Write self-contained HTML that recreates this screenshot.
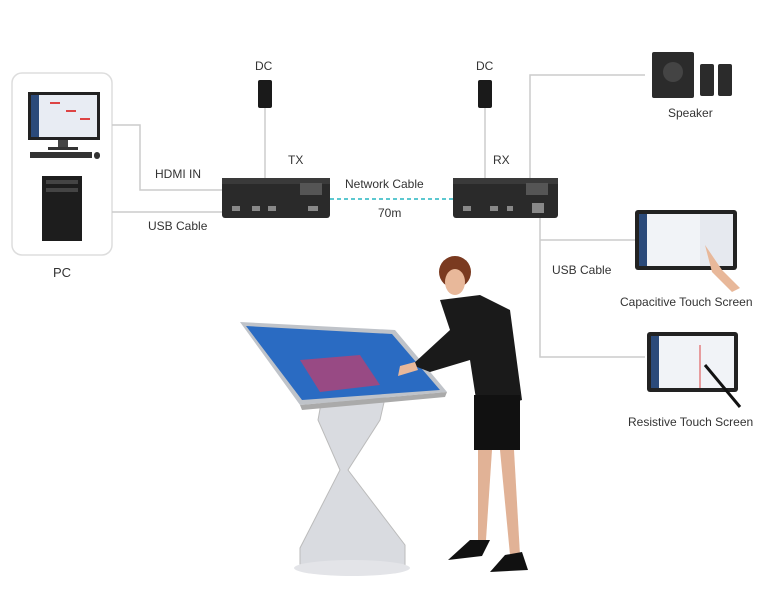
<!DOCTYPE html>
<html><head><meta charset="utf-8"><style>
html,body{margin:0;padding:0;background:#fff;}
svg{display:block;}
text{font-family:"Liberation Sans",sans-serif;fill:#333;}
</style></head><body>
<svg width="773" height="600" viewBox="0 0 773 600" xmlns="http://www.w3.org/2000/svg">
<rect width="773" height="600" fill="#fff"/>
<!-- PC box -->
<rect x="12" y="73" width="100" height="182" rx="10" fill="none" stroke="#ddd" stroke-width="1.5"/>
<rect x="28" y="92" width="72" height="48" fill="#222"/>
<rect x="31" y="95" width="66" height="42" fill="#e8ecf3"/>
<rect x="31" y="95" width="8" height="42" fill="#2b4a7a"/>
<g fill="#d44"><rect x="50" y="102" width="10" height="2"/><rect x="66" y="110" width="10" height="2"/><rect x="80" y="118" width="10" height="2"/></g>
<rect x="58" y="140" width="10" height="8" fill="#444"/>
<rect x="48" y="147" width="30" height="3" fill="#333"/>
<rect x="30" y="152" width="62" height="6" fill="#333"/>
<rect x="94" y="152" width="6" height="7" rx="3" fill="#333"/>
<rect x="42" y="176" width="40" height="65" fill="#1d1d1d"/>
<rect x="46" y="180" width="32" height="4" fill="#444"/>
<rect x="46" y="188" width="32" height="4" fill="#444"/>
<text x="53" y="277" font-size="13">PC</text>
<!-- lines left -->
<g stroke="#ccc" stroke-width="1.5" fill="none">
<path d="M112 125 H140 V190 H222"/>
<path d="M112 212 H222"/>
<path d="M265 108 V178"/>
<path d="M485 108 V178"/>
<path d="M530 178 V75 H645"/>
<path d="M540 218 V357 H645"/>
<path d="M540 240 H635"/>
</g>
<line x1="330" y1="199" x2="453" y2="199" stroke="#5cc8d0" stroke-width="2" stroke-dasharray="4,3"/>
<text x="155" y="178" font-size="12">HDMI IN</text>
<text x="148" y="230" font-size="12">USB Cable</text>
<!-- DC -->
<text x="255" y="70" font-size="12">DC</text>
<rect x="258" y="80" width="14" height="28" rx="2" fill="#1a1a1a"/>
<text x="476" y="70" font-size="12">DC</text>
<rect x="478" y="80" width="14" height="28" rx="2" fill="#1a1a1a"/>
<!-- TX -->
<text x="288" y="164" font-size="12">TX</text>
<rect x="222" y="178" width="108" height="40" rx="3" fill="#2a2a2a"/>
<rect x="222" y="178" width="108" height="6" fill="#3a3a3a"/>
<g fill="#888"><rect x="232" y="206" width="8" height="5"/><rect x="252" y="206" width="8" height="5"/><rect x="268" y="206" width="8" height="5"/><rect x="308" y="206" width="10" height="5"/></g>
<rect x="300" y="183" width="22" height="12" fill="#555"/>
<text x="345" y="188" font-size="12">Network Cable</text>
<text x="378" y="217" font-size="12">70m</text>
<!-- RX -->
<text x="493" y="164" font-size="12">RX</text>
<rect x="453" y="178" width="105" height="40" rx="3" fill="#2a2a2a"/>
<rect x="453" y="178" width="105" height="6" fill="#3a3a3a"/>
<g fill="#888"><rect x="463" y="206" width="8" height="5"/><rect x="490" y="206" width="8" height="5"/><rect x="507" y="206" width="6" height="5"/><rect x="532" y="203" width="12" height="10"/></g>
<rect x="526" y="183" width="22" height="12" fill="#555"/>
<!-- speaker -->
<rect x="652" y="52" width="42" height="46" rx="2" fill="#2b2b2b"/>
<circle cx="673" cy="72" r="10" fill="#444"/>
<rect x="700" y="64" width="14" height="32" rx="2" fill="#2b2b2b"/>
<rect x="718" y="64" width="14" height="32" rx="2" fill="#2b2b2b"/>
<text x="668" y="117" font-size="12">Speaker</text>
<text x="552" y="274" font-size="12">USB Cable</text>
<!-- capacitive -->
<rect x="635" y="210" width="102" height="60" rx="3" fill="#222"/>
<rect x="639" y="214" width="94" height="52" fill="#f1f3f7"/>
<rect x="639" y="214" width="8" height="52" fill="#2b4a7a"/>
<rect x="700" y="214" width="33" height="52" fill="#e6e9ef"/>
<path d="M705 245 L722 270 L740 288 L732 292 L712 272 Z" fill="#e8b89a"/>
<text x="620" y="306" font-size="12">Capacitive Touch Screen</text>
<!-- resistive -->
<rect x="647" y="332" width="91" height="60" rx="3" fill="#222"/>
<rect x="651" y="336" width="83" height="52" fill="#f1f3f7"/>
<rect x="651" y="336" width="8" height="52" fill="#2b4a7a"/>
<line x1="700" y1="345" x2="700" y2="388" stroke="#d44"/>
<line x1="705" y1="365" x2="740" y2="407" stroke="#111" stroke-width="3"/>
<text x="628" y="426" font-size="12">Resistive Touch Screen</text>
<!-- kiosk -->
<path d="M322 398 L385 398 L380 420 L348 470 L405 545 L405 565 L300 565 L300 548 L340 470 L318 420 Z" fill="#d9dbe0" stroke="#bbb"/>
<ellipse cx="352" cy="568" rx="58" ry="8" fill="#e3e4e8"/>
<path d="M240 322 L395 330 L447 392 L300 405 Z" fill="#bfc3c9"/>
<path d="M246 326 L392 334 L440 390 L302 400 Z" fill="#2a6bc2"/>
<path d="M300 360 L360 355 L380 385 L320 392 Z" fill="#c83c6a" opacity="0.7"/>
<path d="M300 405 L447 392 L445 397 L302 410 Z" fill="#aaa"/>
<!-- woman -->
<circle cx="455" cy="272" r="16" fill="#7a3a20"/>
<ellipse cx="455" cy="282" rx="10" ry="13" fill="#e8b89a"/>
<path d="M440 300 L480 295 L510 310 L522 400 L478 412 L470 360 L430 372 L412 365 L450 330 Z" fill="#1a1a1a"/>
<path d="M400 366 L415 362 L418 370 L398 376 Z" fill="#e8b89a"/>
<rect x="474" y="395" width="46" height="55" fill="#111"/>
<path d="M478 450 L492 450 L486 540 L478 540 Z" fill="#e1b296"/>
<path d="M500 450 L514 450 L520 555 L510 555 Z" fill="#e1b296"/>
<path d="M470 540 L490 540 L482 556 L448 560 Z" fill="#111"/>
<path d="M505 555 L522 552 L528 570 L490 572 Z" fill="#111"/>
</svg>
</body></html>
